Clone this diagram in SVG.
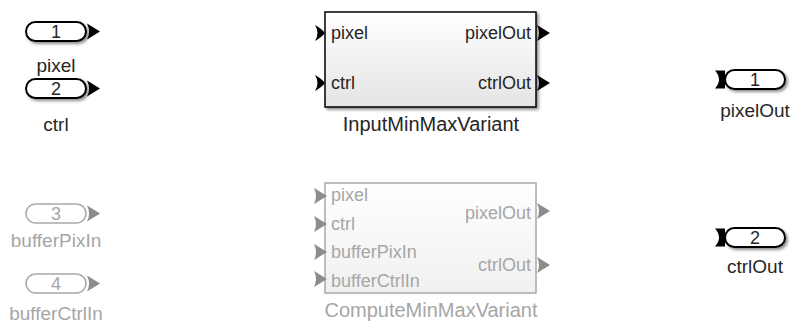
<svg xmlns="http://www.w3.org/2000/svg" width="793" height="325" viewBox="0 0 793 325">
<defs>
<filter id="sh" x="-20%" y="-30%" width="150%" height="180%">
<feGaussianBlur in="SourceAlpha" stdDeviation="1.5"/>
<feOffset dx="2" dy="2" result="b"/>
<feComponentTransfer><feFuncA type="linear" slope="0.45"/></feComponentTransfer>
<feMerge><feMergeNode/><feMergeNode in="SourceGraphic"/></feMerge>
</filter>
<linearGradient id="g" x1="0" y1="0" x2="0" y2="1">
<stop offset="0" stop-color="#ffffff"/>
<stop offset="1" stop-color="#e4e4e4"/>
</linearGradient>
<linearGradient id="gg" x1="0" y1="0" x2="0" y2="1">
<stop offset="0" stop-color="#ffffff"/>
<stop offset="1" stop-color="#f0f0f0"/>
</linearGradient>
<path id="ia" d="M0,-8 L13,0 L0,8 Q4,0 0,-8Z"/>
<path id="ba" d="M0,-8 Q7,-4 10,0 Q7,4 0,8 Q5,0 0,-8Z"/>
<path id="oa" d="M0,-9 Q8,0 0,9 L10,9 L10,-9Z"/>
</defs>
<style>
text{font-family:"Liberation Sans",Arial,sans-serif;font-size:18px;fill:#262626}
.lbl{font-size:19px}
.name{font-size:20px}
.pill{fill:#fff;stroke:#000;stroke-width:2}
.gpill{fill:#fff;stroke:#a8a8a8;stroke-width:1.6}
.arr{fill:#000}
.garr{fill:#8c8c8c}
.g text, text.g{fill:#a6a6a6}
.c{text-anchor:middle}
.r{text-anchor:end}
</style>
<rect width="793" height="325" fill="#fff"/>

<g id="in1">
<rect class="pill" x="26" y="22" width="60" height="19" rx="9.5" filter="url(#sh)"/>
<use href="#ia" class="arr" x="87" y="31.5"/>
<text class="c" x="56" y="38">1</text>
<text class="c lbl" x="56" y="72">pixel</text>
</g>
<g id="in2">
<rect class="pill" x="26" y="79" width="60" height="19" rx="9.5" filter="url(#sh)"/>
<use href="#ia" class="arr" x="87" y="88.5"/>
<text class="c" x="56" y="95">2</text>
<text class="c lbl" x="56" y="131">ctrl</text>
</g>
<g id="in3" class="g">
<rect class="gpill" x="26" y="204" width="60" height="19" rx="9.5"/>
<use href="#ia" class="garr" x="87" y="213.5"/>
<text class="c" x="56" y="220">3</text>
<text class="c lbl" x="56" y="247">bufferPixIn</text>
</g>
<g id="in4" class="g">
<rect class="gpill" x="26" y="274" width="60" height="19" rx="9.5"/>
<use href="#ia" class="garr" x="87" y="283.5"/>
<text class="c" x="56" y="290">4</text>
<text class="c lbl" x="56" y="320">bufferCtrlIn</text>
</g>

<g id="InputMinMaxVariant">
<rect x="325" y="12" width="211" height="95" fill="url(#g)" stroke="#000" stroke-width="1.5" filter="url(#sh)"/>
<use href="#ba" class="arr" x="315" y="33"/>
<use href="#ba" class="arr" x="315" y="83"/>
<use href="#ia" class="arr" x="537" y="33"/>
<use href="#ia" class="arr" x="537" y="83"/>
<text x="331" y="39">pixel</text>
<text x="331" y="89">ctrl</text>
<text class="r" x="531" y="39">pixelOut</text>
<text class="r" x="531" y="89">ctrlOut</text>
<text class="c name" x="431" y="131">InputMinMaxVariant</text>
</g>

<g id="ComputeMinMaxVariant" class="g">
<rect x="325" y="183" width="211" height="110" fill="url(#gg)" stroke="#a8a8a8" stroke-width="1.5"/>
<use href="#ia" class="garr" x="314" y="196"/>
<use href="#ia" class="garr" x="314" y="224"/>
<use href="#ia" class="garr" x="314" y="252"/>
<use href="#ia" class="garr" x="314" y="279"/>
<use href="#ia" class="garr" x="537" y="211"/>
<use href="#ia" class="garr" x="537" y="265"/>
<text x="331" y="201">pixel</text>
<text x="331" y="230">ctrl</text>
<text x="331" y="258">bufferPixIn</text>
<text x="331" y="287">bufferCtrlIn</text>
<text class="r" x="531" y="219">pixelOut</text>
<text class="r" x="531" y="271">ctrlOut</text>
<text class="c name" x="431" y="317">ComputeMinMaxVariant</text>
</g>

<g id="out1">
<rect class="pill" x="725" y="70" width="60" height="19" rx="9.5" filter="url(#sh)"/>
<use href="#oa" class="arr" x="715" y="79.5"/>
<text class="c" x="755" y="86">1</text>
<text class="c lbl" x="755" y="117">pixelOut</text>
</g>
<g id="out2">
<rect class="pill" x="725" y="228" width="60" height="19" rx="9.5" filter="url(#sh)"/>
<use href="#oa" class="arr" x="715" y="237.5"/>
<text class="c" x="755" y="244">2</text>
<text class="c lbl" x="755" y="273">ctrlOut</text>
</g>
<g id="connectors"></g>
</svg>
